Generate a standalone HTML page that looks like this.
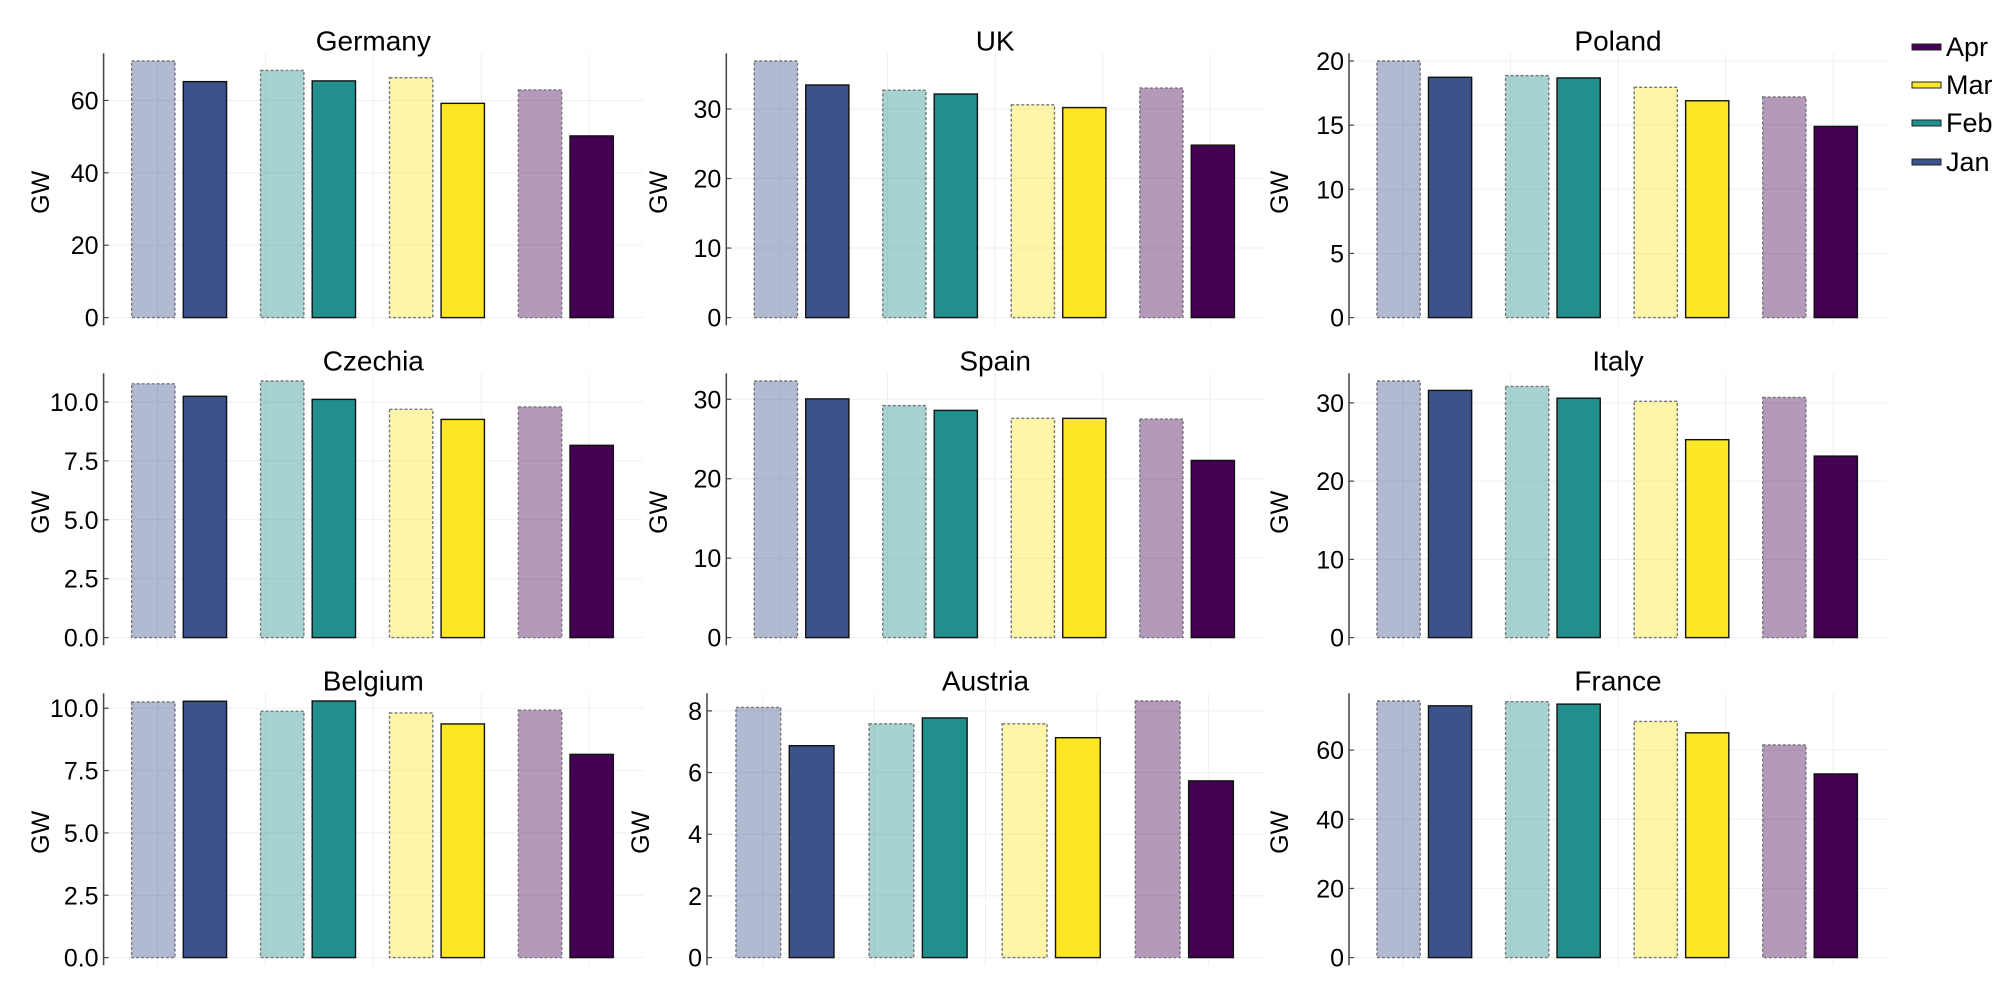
<!DOCTYPE html>
<html><head><meta charset="utf-8"><style>
html,body{margin:0;padding:0;background:#fff;}
svg{display:block;font-family:"Liberation Sans",Arial,sans-serif;}
</style></head><body>
<svg id="chart" width="2000" height="1000" viewBox="0 0 2000 1000" xmlns="http://www.w3.org/2000/svg"></svg>
<script>
const countries = ["Germany","UK","Poland","Czechia","Spain","Italy","Belgium","Austria","France"];
const months = ["Jan","Feb","Mar","Apr"];
const paleGermany = [70.9,68.3,66.3,62.9];
const darkGermany = [65.2,65.4,59.2,50.2];
const paleUK = [36.9,32.7,30.6,33.0];
const darkUK = [33.45,32.15,30.2,24.8];
const palePoland = [20.0,18.86,17.95,17.2];
const darkPoland = [18.73,18.68,16.9,14.9];
const paleCzechia = [10.77,10.89,9.69,9.79];
const darkCzechia = [10.24,10.11,9.26,8.16];
const paleSpain = [32.3,29.2,27.6,27.5];
const darkSpain = [30.05,28.6,27.6,22.3];
const paleItaly = [32.8,32.1,30.2,30.7];
const darkItaly = [31.6,30.6,25.3,23.2];
const paleBelgium = [10.25,9.88,9.81,9.92];
const darkBelgium = [10.28,10.29,9.37,8.15];
const paleAustria = [8.11,7.58,7.58,8.32];
const darkAustria = [6.87,7.77,7.13,5.73];
const paleFrance = [74.2,74.0,68.3,61.5];
const darkFrance = [72.8,73.3,65.0,53.1];
const ticksGermany = ["0","20","40","60"];
const ticksUK = ["0","10","20","30"];
const ticksPoland = ["0","5","10","15","20"];
const ticksCzechia = ["0.0","2.5","5.0","7.5","10.0"];
const ticksSpain = ["0","10","20","30"];
const ticksItaly = ["0","10","20","30"];
const ticksBelgium = ["0.0","2.5","5.0","7.5","10.0"];
const ticksAustria = ["0","2","4","6","8"];
const ticksFrance = ["0","20","40","60"];

const paleData = [paleGermany,paleUK,palePoland,paleCzechia,paleSpain,paleItaly,paleBelgium,paleAustria,paleFrance];
const darkData = [darkGermany,darkUK,darkPoland,darkCzechia,darkSpain,darkItaly,darkBelgium,darkAustria,darkFrance];
const tickData = [ticksGermany,ticksUK,ticksPoland,ticksCzechia,ticksSpain,ticksItaly,ticksBelgium,ticksAustria,ticksFrance];

const colors = ["#3b528b","#21908d","#fde725","#440154"];
const axisX = [103.6,726.3,1349,103.6,726.3,1349,103.6,707,1349];
const rightX = [643,1264,1887];
const gwX = [40,658,1279,40,658,1279,40,640,1279];
const rowTop = [53.3,373.3,693.3];
const H = 272;
const NS = "http://www.w3.org/2000/svg";
const svg = document.getElementById('chart');
function mk(tag, attrs, parent){
  const e = document.createElementNS(NS, tag);
  for (const k in attrs) e.setAttribute(k, attrs[k]);
  (parent||svg).appendChild(e);
  return e;
}

countries.forEach((name, i) => {
  const row = Math.floor(i/3), col = i%3;
  const T = rowTop[row];
  const x0 = axisX[i], x1 = rightX[col], W = x1 - x0;
  const pale = paleData[i], dark = darkData[i];
  const M = Math.max(...pale, ...dark);
  const lo = -0.03*M, hi = 1.03*M;
  const y = v => T + H*(hi - v)/(hi - lo);
  const xf = f => x0 + W*f;
  const g = mk('g', {});
  
  
  [0.1,0.3,0.5,0.7,0.9].forEach(f => {
    const l = mk('line', {x1:xf(f), x2:xf(f), y1:T, y2:T+H, stroke:'#efefef', 'stroke-width':1}, g);
    
    
  });
  tickData[i].forEach(t => {
    const v = parseFloat(t);
    const yy = y(v);
    const gl = mk('line', {x1:x0, x2:x1, y1:yy, y2:yy, stroke:'#efefef', 'stroke-width':1}, g);
    
    
    const tk = mk('line', {x1:x0, x2:x0+5, y1:yy, y2:yy, stroke:'#444', 'stroke-width':1.2}, g);
    
    
    const tl = mk('text', {x:x0-5, y:yy+9, 'text-anchor':'end', 'font-size':25, fill:'#000'}, g);
    tl.textContent = t;
    
    
  });
  for (let m = 0; m < 4; m++) {
    const pl = 0.052 + 0.239*m, dl = pl + 0.0957, bw = 0.0803;
    const pb = mk('rect', {x:xf(pl), y:y(pale[m]), width:W*bw, height:y(0)-y(pale[m]),
      fill:colors[m], 'fill-opacity':0.4, stroke:'#777', 'stroke-width':1.4, 'stroke-dasharray':'3,2'}, g);
    
    
    const db = mk('rect', {x:xf(dl), y:y(dark[m]), width:W*bw, height:y(0)-y(dark[m]),
      fill:colors[m], stroke:'#111', 'stroke-width':1.4}, g);
    
    
  }
  const ax = mk('line', {x1:x0, x2:x0, y1:T, y2:T+H, stroke:'#444', 'stroke-width':1.5}, g);
  
  
  const tt = mk('text', {x:(x0+x1)/2, y:T-3, 'text-anchor':'middle', 'font-size':28, fill:'#000'}, g);
  tt.textContent = name;
  
  
  const cy = T + H/2 + 3;
  const yl = mk('text', {x:gwX[i], y:cy, 'text-anchor':'middle', 'font-size':25, fill:'#000',
    transform:'rotate(-90 ' + gwX[i] + ' ' + cy + ') translate(0 9)'}, g);
  yl.textContent = 'GW';
  
  
});

const legendOrder = [3,2,1,0];
const legendY = [47,85,123,162];
const lg = mk('g', {});


legendOrder.forEach((m, k) => {
  const r = mk('rect', {x:1912, y:legendY[k]-3, width:29, height:6, fill:colors[m], stroke:'#222', 'stroke-width':1}, lg);
  
  
  const t = mk('text', {x:1946, y:legendY[k]+9, 'font-size':27, fill:'#000'}, lg);
  t.textContent = months[m];
  
  
});
</script>
</body></html>
